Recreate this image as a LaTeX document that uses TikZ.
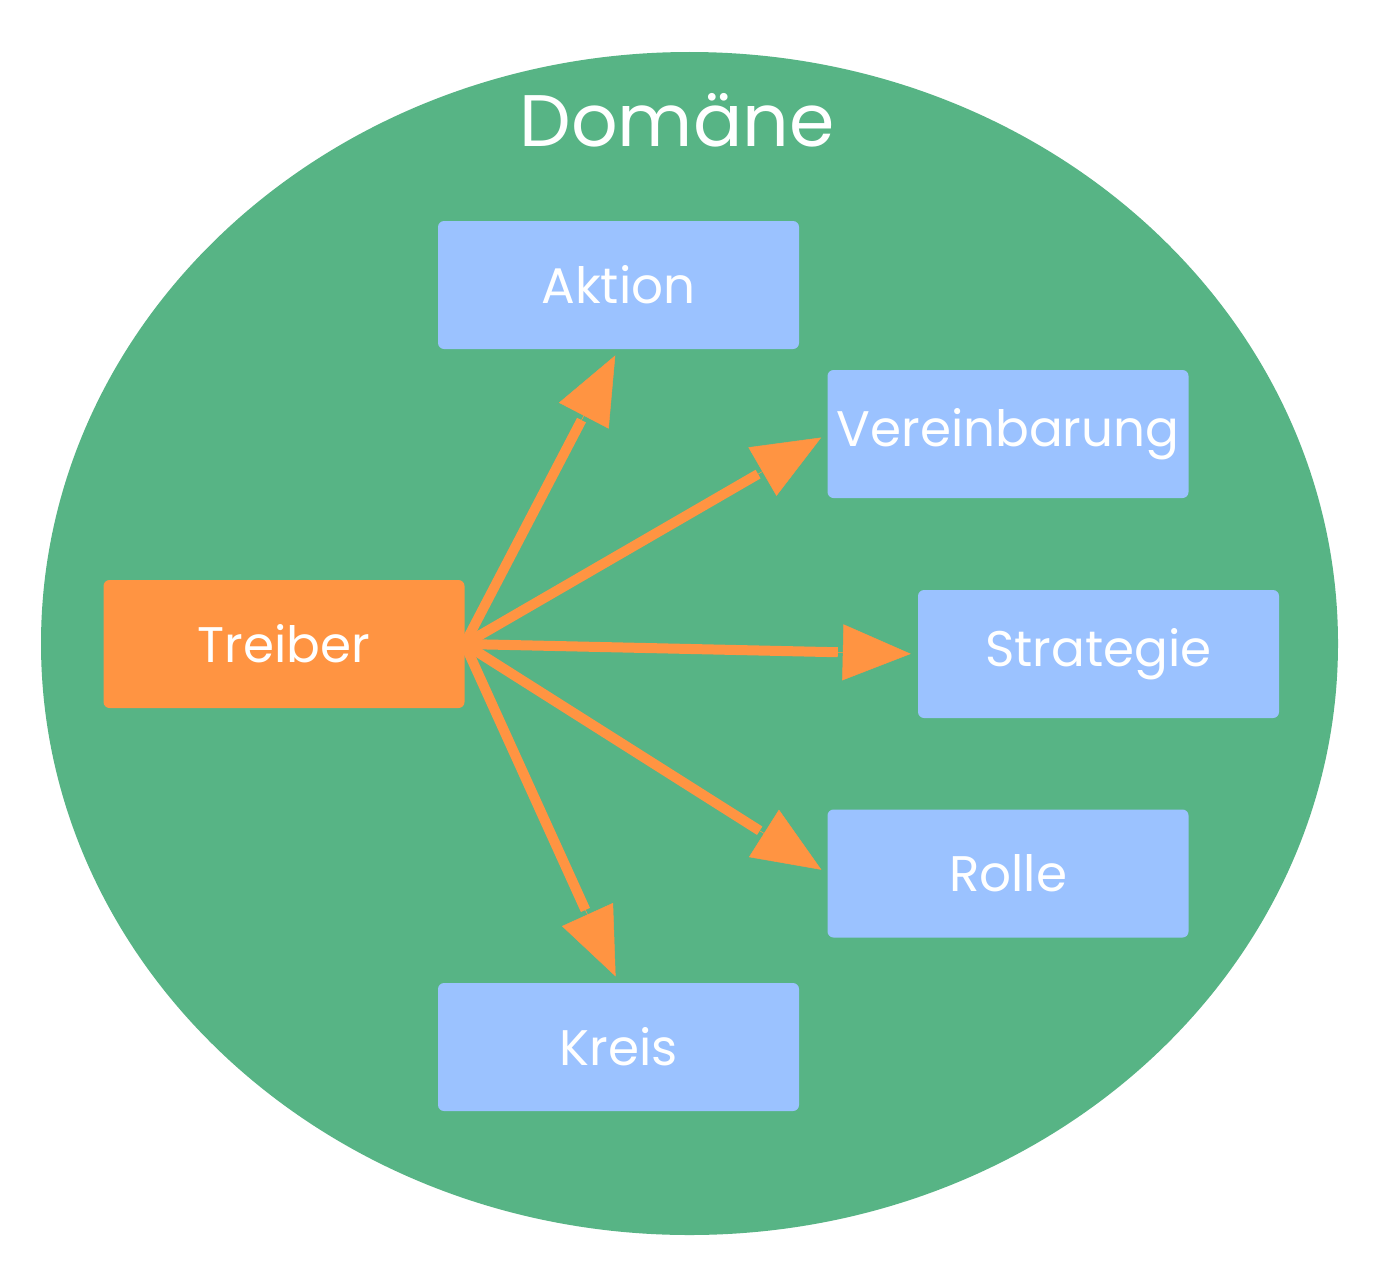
\documentclass[tikz,border=0pt]{standalone}
\usepackage{fontspec}
\setmainfont{Poppins}
\usetikzlibrary{arrows.meta}
\definecolor{dgreen}{HTML}{57B485}
\definecolor{dblue}{HTML}{9BC2FF}
\definecolor{dorange}{HTML}{FF9442}
\tikzset{
  box/.style={rectangle, rounded corners=6pt, minimum width=361pt, minimum height=128pt, inner sep=0pt, text=white, font=\fontsize{50}{60}\selectfont},
  bluebox/.style={box, fill=dblue},
  orangebox/.style={box, fill=dorange},
  arrline/.style={draw=dorange, line width=10pt, shorten >=80pt},
  arrhead/.style={draw=dorange, fill=dorange, line width=0.5pt, -{Triangle[length=68pt,width=56pt]}, shorten >=7pt}
}
\begin{document}
\begin{tikzpicture}[x=1pt,y=-1pt]
\useasboundingbox (0,0) rectangle (1380,1263);
\fill[white] (0,0) rectangle (1380,1263);
\fill[dgreen] (689.5,643.5) ellipse [x radius=648.5, y radius=591.5];
\node (title) at (677,120) [text=white, font=\fontsize{73}{85}\selectfont] {Domäne};
\node[bluebox] (aktion) at (618.5,285) {Aktion};
\node[bluebox] (verein) at (1008,434) {Vereinbarung};
\node[orangebox] (treiber) at (284,644) {Treiber};
\node[bluebox] (strat) at (1098.5,654) {Strategie};
\node[bluebox] (rolle) at (1008,873.5) {Rolle};
\node[bluebox] (kreis) at (618.5,1047) {Kreis};
\foreach \t/\a in {aktion/south, verein/west, strat/west, rolle/west, kreis/north}{
  \draw[arrline] (treiber.east) -- (\t.\a);
  \draw[arrhead] (treiber.east) -- (\t.\a);
}
\end{tikzpicture}
\end{document}
